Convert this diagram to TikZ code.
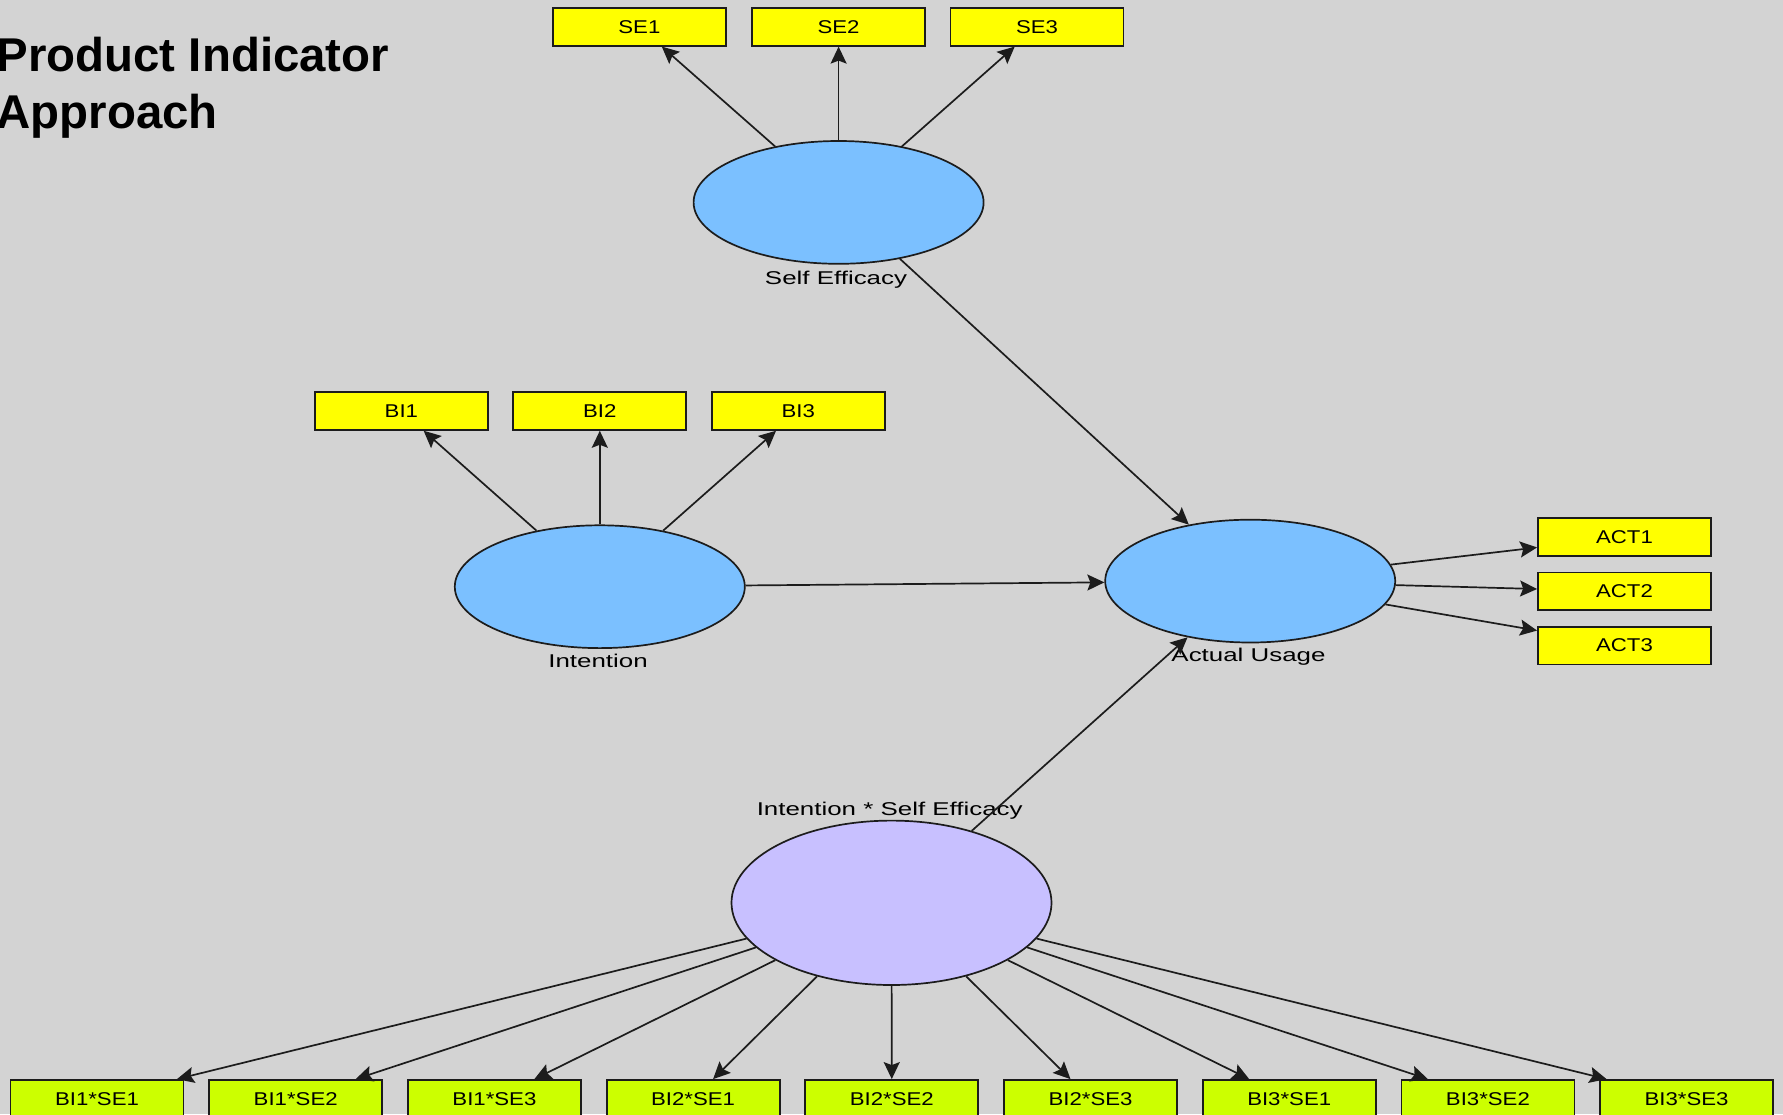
\documentclass[tikz,border=0pt]{standalone}
\usepackage{fontspec}
\setmainfont{Liberation Sans}
\newfontfamily\lvfont[FakeStretch=1.4]{Liberation Sans}
\newfontfamily\indfont[FakeStretch=1.2]{Liberation Sans}
\usetikzlibrary{shapes.geometric,arrows.meta}
\definecolor{bgc}{HTML}{D3D3D3}
\definecolor{indyellow}{HTML}{FFFF00}
\definecolor{prodgreen}{HTML}{CCFF00}
\definecolor{lvblue}{HTML}{7BC0FF}
\definecolor{lvlilac}{HTML}{C8C0FF}
\definecolor{edgec}{HTML}{1C1C1C}
\begin{document}
\begin{tikzpicture}[x=1pt,y=-1pt,
  ind/.style={draw=edgec,line width=1.8pt,fill=indyellow,minimum width=173pt,
    minimum height=37.7pt,inner sep=0pt,font=\indfont\fontsize{18.5}{20}\selectfont},
  prod/.style={ind,fill=prodgreen},
  lv/.style={ellipse,draw=edgec,line width=1.7pt,fill=lvblue,inner sep=0pt,
    minimum width=290pt,minimum height=122.8pt},
  lvlab/.style={font=\lvfont\fontsize{18.5}{20}\selectfont,inner sep=0pt,anchor=base},
  conn/.style={draw=edgec,line width=1.7pt,-{Stealth[length=17pt,width=16pt,inset=3pt]}},
  title/.style={anchor=base west,inner sep=0pt,font=\bfseries\fontsize{47.4}{56.6}\selectfont}
]
\fill[bgc] (0,0) rectangle (1783,1114);
\useasboundingbox (0,0) rectangle (1783,1114);

% heading
\node[title] (t1) at (-3.5,71.7) {Product Indicator};
\node[title] (t2) at (-3.5,128.3) {Approach};

% latent variables
\node[lv] (se) at (838.6,202.4) {};
\node[lvlab] (selab) at (836,284) {Self Efficacy};
\node[lv] (in) at (599.8,586.7) {};
\node[lvlab] (inlab) at (598,667.5) {Intention};
\node[lv] (au) at (1250.2,581.1) {};
\node[lvlab] (aulab) at (1248.5,661.7) {Actual Usage};
\node[lv,fill=lvlilac,minimum width=320pt,minimum height=164.4pt] (ix) at (891.5,902.8) {};
\node[lvlab] (ixlab) at (889.7,815) {Intention * Self Efficacy};

% indicators
\node[ind] (se1) at (639.4,26.85) {SE1};
\node[ind] (se2) at (838.6,26.85) {SE2};
\node[ind] (se3) at (1037,26.85) {SE3};
\node[ind] (bi1) at (401.4,411) {BI1};
\node[ind] (bi2) at (599.8,411) {BI2};
\node[ind] (bi3) at (798.3,411) {BI3};
\node[ind] (act1) at (1624.5,537.2) {ACT1};
\node[ind] (act2) at (1624.5,591.4) {ACT2};
\node[ind] (act3) at (1624.5,645.6) {ACT3};
\foreach \t [count=\i from 0] in {BI1*SE1,BI1*SE2,BI1*SE3,BI2*SE1,BI2*SE2,BI2*SE3,BI3*SE1,BI3*SE2,BI3*SE3}
  \node[prod] (p\i) at (97+\i*198.7,1098.85) {\t};

% outer loadings
\foreach \k in {se1,se2,se3} \draw[conn] (se) -- (\k);
\foreach \k in {bi1,bi2,bi3} \draw[conn] (in) -- (\k);
\foreach \k in {act1,act2,act3} \draw[conn] (au) -- (\k);
\foreach \i in {0,...,8} \draw[conn] (ix) -- (p\i);

% structural paths
\draw[conn] (se) -- (au);
\draw[conn] (in) -- (au);
\draw[conn] (ix) -- (au);
\end{tikzpicture}
\end{document}
